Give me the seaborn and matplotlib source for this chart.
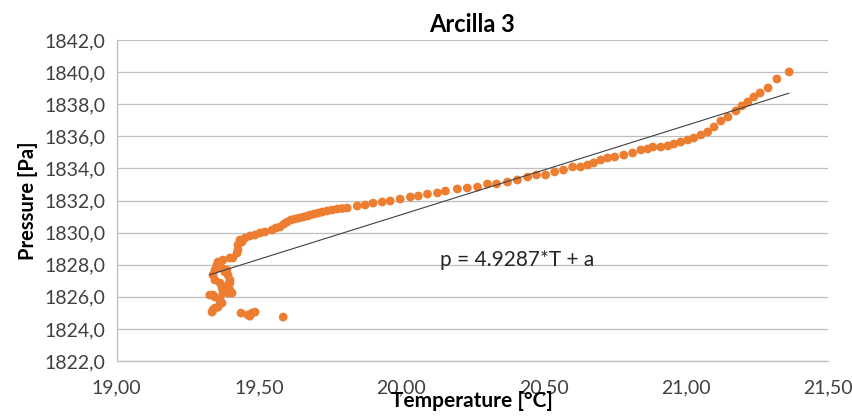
import matplotlib
matplotlib.use("Agg")
import matplotlib.pyplot as plt
import matplotlib.ticker as mticker
import seaborn as sns
import pandas as pd

title = "Arcilla 3"
x_label = "Temperature [°C]"
y_label = "Pressure [Pa]"
equation = "p = 4.9287*T + a"

temperature = [
    19.335, 19.345, 19.356, 19.370, 19.363, 19.345, 19.327, 19.338, 19.391, 19.370,
    19.398, 19.391, 19.363, 19.398, 19.345, 19.391, 19.338, 19.380, 19.345, 19.370,
    19.352, 19.356, 19.398, 19.408, 19.423, 19.426, 19.426, 19.433, 19.387, 19.405,
    19.373, 19.363, 19.338, 19.373, 19.398, 19.356,
    19.437, 19.461, 19.475, 19.486, 19.468, 19.585,
    19.440, 19.451, 19.468, 19.486, 19.504, 19.521, 19.546, 19.560, 19.574, 19.588,
    19.599, 19.613, 19.627, 19.641, 19.655, 19.669, 19.680, 19.694, 19.708, 19.722,
    19.739, 19.757, 19.775, 19.792, 19.810, 19.845, 19.873, 19.901, 19.933, 19.961,
    19.996, 20.032, 20.060, 20.092, 20.127, 20.155, 20.197, 20.232, 20.268, 20.303,
    20.335, 20.373, 20.408, 20.444, 20.475, 20.507, 20.539, 20.570, 20.602, 20.630,
    20.655, 20.676, 20.701, 20.725, 20.750, 20.782, 20.813, 20.842, 20.866, 20.884,
    20.912, 20.937, 20.958, 20.982, 21.007, 21.028, 21.053, 21.077, 21.099, 21.123,
    21.148, 21.176, 21.197, 21.218, 21.239, 21.261, 21.289, 21.320, 21.363,
]

pressure = [
    1825.05, 1825.30, 1825.36, 1825.61, 1825.80, 1825.99, 1826.11, 1826.11, 1826.24, 1826.55,
    1826.42, 1826.74, 1826.86, 1827.05, 1827.05, 1827.36, 1827.36, 1827.55, 1827.67, 1827.79,
    1827.98, 1828.17, 1828.42, 1828.42, 1828.73, 1828.92, 1829.23, 1829.54, 1827.67, 1826.24,
    1826.24, 1825.80, 1825.18, 1828.29, 1826.86, 1828.05,
    1824.99, 1824.87, 1824.99, 1825.05, 1824.80, 1824.74,
    1829.41, 1829.66, 1829.79, 1829.85, 1829.98, 1830.04, 1830.16, 1830.29, 1830.35, 1830.54,
    1830.66, 1830.79, 1830.85, 1830.91, 1830.97, 1831.03, 1831.10, 1831.16, 1831.22, 1831.28,
    1831.35, 1831.41, 1831.47, 1831.50, 1831.53, 1831.66, 1831.72, 1831.84, 1831.91, 1831.97,
    1832.09, 1832.22, 1832.28, 1832.40, 1832.47, 1832.59, 1832.72, 1832.78, 1832.84, 1833.03,
    1833.03, 1833.15, 1833.28, 1833.46, 1833.59, 1833.59, 1833.78, 1833.90, 1834.09, 1834.09,
    1834.21, 1834.34, 1834.52, 1834.65, 1834.71, 1834.83, 1834.96, 1835.15, 1835.21, 1835.33,
    1835.33, 1835.40, 1835.52, 1835.64, 1835.77, 1835.89, 1836.08, 1836.27, 1836.58, 1836.95,
    1837.20, 1837.58, 1837.89, 1838.14, 1838.45, 1838.70, 1839.01, 1839.57, 1840.01,
]

x_ticks = [19.0, 19.5, 20.0, 20.5, 21.0, 21.5]
y_ticks = [1822, 1824, 1826, 1828, 1830, 1832, 1834, 1836, 1838, 1840, 1842]

df = pd.DataFrame({"T": temperature, "p": pressure})

sns.set_theme(style="white")
plt.rcParams["font.family"] = ["Lato", "DejaVu Sans"]

fig = plt.figure(figsize=(8.52, 4.16), dpi=100)
ax = fig.add_axes([0.137, 0.132, 0.835, 0.772])

sns.scatterplot(data=df, x="T", y="p", ax=ax, color="#ED7D31", s=40,
                edgecolor="none", linewidth=0, zorder=3)
sns.regplot(data=df, x="T", y="p", ax=ax, scatter=False, ci=None, truncate=True,
            line_kws={"color": "#404040", "linewidth": 0.8, "zorder": 4})

ax.set_xlim(19.0, 21.5)
ax.set_ylim(1822, 1842)
ax.set_xticks(x_ticks)
ax.set_yticks(y_ticks)
ax.xaxis.set_major_formatter(mticker.FuncFormatter(lambda v, p: f"{v:.2f}".replace(".", ",")))
ax.yaxis.set_major_formatter(mticker.FuncFormatter(lambda v, p: f"{v:.1f}".replace(".", ",")))
ax.tick_params(axis="both", labelsize=14, colors="#595959", labelcolor="#404040")
ax.tick_params(axis="x", direction="out", length=5, width=0.8, pad=8)
ax.tick_params(axis="y", direction="out", length=5, width=0.8, pad=3)

ax.yaxis.grid(True, color="#BFBFBF", linewidth=0.9)
ax.xaxis.grid(False)
for side in ["top", "right"]:
    ax.spines[side].set_visible(False)
for side in ["left", "bottom"]:
    ax.spines[side].set_color("#BFBFBF")
    ax.spines[side].set_linewidth(0.9)

ax.set_title(title, fontsize=17, fontweight="bold", color="black", pad=6)
ax.set_xlabel(x_label, fontsize=15, fontweight="bold", color="black", labelpad=-4)
ax.set_ylabel(y_label, fontsize=14.5, fontweight="bold", color="black", labelpad=5)

ax.text(20.137, 1828.3, equation, fontsize=15, color="#262626", va="center", ha="left")

fig.savefig("out.png", dpi=100)
